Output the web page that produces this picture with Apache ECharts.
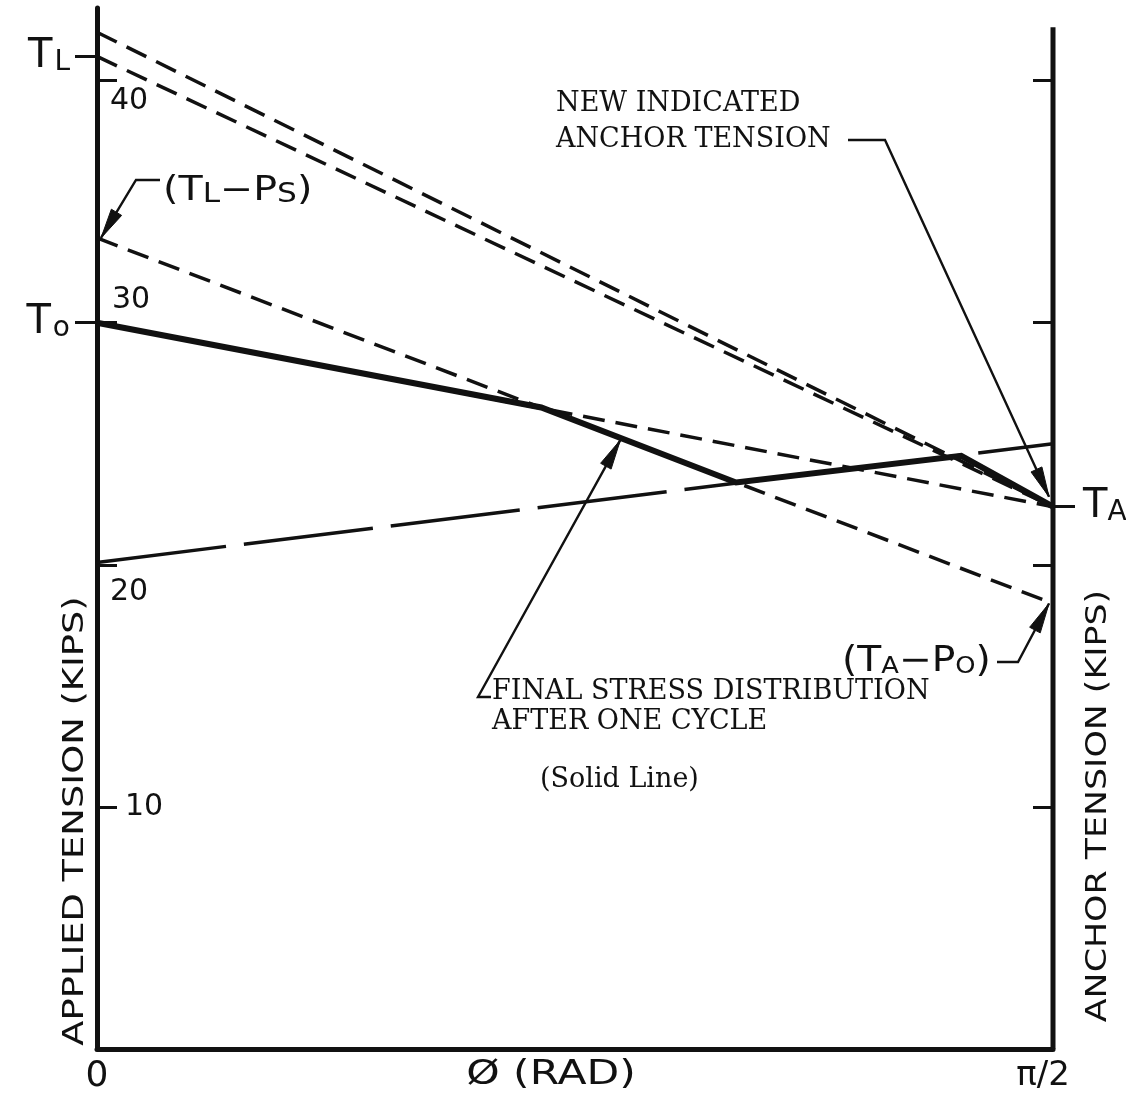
<!DOCTYPE html>
<html>
<head>
<meta charset="utf-8">
<title>Applied and anchor tension along the tendon</title>
<script src="https://cdn.jsdelivr.net/npm/echarts@6/dist/echarts.min.js"></script>
<style>
  html, body { margin: 0; padding: 0; background: #ffffff; }
  #chart { width: 1126px; height: 1096px; }
</style>
</head>
<body>
<div id="chart"></div>
<script>
// ---- data -------------------------------------------------------------
const PHI_MAX = Math.PI / 2;                 // angle at the anchor end (rad)
const phiTickLabels = ['0', 'π/2'];
const tensionTicks = [10, 20, 30, 40];       // kips

// straight distributions, tension at phi = 0 and at phi = π/2
const lineEnds = [0, PHI_MAX];
const jackingUpper = [42.0, 22.4];
const jackingTL = [41.0, 22.4];
const lockOffLine = [33.5, 18.4];            // (TL - PS) down to (TA - PO)
const initialLine = [30.0, 22.4];            // To down to TA
const reverseLine = [20.1, 25.0];            // rising long-dash line

// final stress distribution after one cycle
const finalPhi = [0, 0.73, 1.05, 1.42, PHI_MAX];
const finalTension = [30.0, 26.5, 23.4, 24.5, 22.4];

// marked tensions on the two vertical axes
const markedLeft = [41.0, 30.0];             // TL, To
const markedRight = [22.4];                  // TA
const lockOffStart = 33.5;                   // TL - PS
const anchorDrop = 18.4;                     // TA - PO
const anchorSpine = [0, 42.2];               // extent of the anchor-tension axis

// ---- styles -----------------------------------------------------------
const INK = '#111111';
const HAND = '"DejaVu Sans", sans-serif';
const PRINT = '"DejaVu Serif", serif';

const chart = echarts.init(document.getElementById('chart'), null, { renderer: 'canvas' });

function straight(name, ends, dash, width) {
  return {
    name: name,
    type: 'line',
    xAxisIndex: 0,
    yAxisIndex: 0,
    data: lineEnds.map((x, i) => [x, ends[i]]),
    symbol: 'none',
    clip: false,
    silent: true,
    z: 3,
    lineStyle: { color: INK, width: width, type: dash, cap: 'butt' }
  };
}

const shortDash = [22, 11];
const longDash = [130, 18];

const option = {
  backgroundColor: '#ffffff',
  animation: false,
  grid: { left: 97, right: 73, top: 8, bottom: 47, containLabel: false, outerBoundsMode: 'none' },
  xAxis: {
    type: 'value',
    min: 0,
    max: PHI_MAX,
    interval: PHI_MAX,
    axisLine: { show: true, onZero: false, lineStyle: { color: INK, width: 5 } },
    axisTick: { show: false },
    splitLine: { show: false },
    axisLabel: {
      margin: 10,
      color: INK,
      fontFamily: HAND,
      fontSize: 34,
      showMinLabel: true,
      showMaxLabel: true,
      formatter: (v) => (v < 0.5 ? '{z|' + phiTickLabels[0] + '}' : '{p|' + phiTickLabels[1] + '}'),
      rich: {
        z: { fontFamily: HAND, fontSize: 36, color: INK },
        p: { fontFamily: HAND, fontSize: 34, color: INK, padding: [0, 20, 12, 0] }
      }
    }
  },
  yAxis: [
    {
      // applied tension scale
      type: 'value',
      position: 'left',
      min: 0,
      max: 43,
      interval: 10,
      axisLine: { show: true, onZero: false, lineStyle: { color: INK, width: 5 } },
      axisTick: {
        show: true, inside: true, length: 20,
        customValues: tensionTicks,
        lineStyle: { color: INK, width: 3 }
      },
      splitLine: { show: false },
      axisLabel: {
        inside: true,
        margin: 12,
        color: INK,
        fontFamily: HAND,
        fontSize: 30,
        customValues: tensionTicks,
        formatter: (v) => {
          if (v === tensionTicks[3]) return '{lo|' + v + '}';
          if (v === tensionTicks[2]) return '{hi|' + v + '}';
          if (v === tensionTicks[1]) return '{lo2|' + v + '}';
          if (v === tensionTicks[0]) return '{mid|' + v + '}';
          return '';
        },
        rich: {
          lo: { fontFamily: HAND, fontSize: 30, color: INK, padding: [42, 0, 0, 1] },
          hi: { fontFamily: HAND, fontSize: 30, color: INK, padding: [0, 0, 46, 3] },
          lo2: { fontFamily: HAND, fontSize: 30, color: INK, padding: [54, 0, 0, 1] },
          mid: { fontFamily: HAND, fontSize: 30, color: INK, padding: [0, 0, 0, 16] }
        }
      }
    },
    {
      // named tensions TL and To, ticked outside the left axis
      type: 'value',
      position: 'left',
      min: 0,
      max: 43,
      axisLine: { show: false },
      splitLine: { show: false },
      axisTick: {
        show: true, inside: false, length: 22,
        customValues: markedLeft,
        lineStyle: { color: INK, width: 3 }
      },
      axisLabel: {
        show: true,
        margin: 27,
        customValues: markedLeft,
        formatter: (v) => (v === markedLeft[0] ? '{t|T}{s|L}' : '{t|T}{o|o}'),
        rich: {
          t: { fontFamily: HAND, fontSize: 40, color: INK },
          s: { fontFamily: HAND, fontSize: 28, color: INK, padding: [12, 0, 0, 2] },
          o: { fontFamily: HAND, fontSize: 28, color: INK, padding: [12, 0, 0, 2] }
        }
      }
    },
    {
      // anchor tension scale, ticks only
      type: 'value',
      position: 'right',
      min: 0,
      max: 43,
      interval: 10,
      axisLine: { show: false },
      splitLine: { show: false },
      axisTick: {
        show: true, inside: true, length: 20,
        customValues: tensionTicks,
        lineStyle: { color: INK, width: 3 }
      },
      axisLabel: { show: false }
    },
    {
      // named tension TA, ticked outside the right axis
      type: 'value',
      position: 'right',
      min: 0,
      max: 43,
      axisLine: { show: false },
      splitLine: { show: false },
      axisTick: {
        show: true, inside: false, length: 22,
        customValues: markedRight,
        lineStyle: { color: INK, width: 3 }
      },
      axisLabel: {
        show: true,
        margin: 30,
        customValues: markedRight,
        formatter: () => '{t|T}{s|A}',
        rich: {
          t: { fontFamily: HAND, fontSize: 40, color: INK },
          s: { fontFamily: HAND, fontSize: 28, color: INK, padding: [12, 0, 0, 0] }
        }
      }
    }
  ],
  series: [
    straight('jacking upper', jackingUpper, shortDash, 3.5),
    straight('jacking TL', jackingTL, shortDash, 3.5),
    straight('lock-off', lockOffLine, shortDash, 3.5),
    straight('initial', initialLine, shortDash, 3.5),
    straight('reverse', reverseLine, longDash, 3.5),
    {
      name: 'final distribution',
      type: 'line',
      xAxisIndex: 0,
      yAxisIndex: 0,
      data: finalPhi.map((x, i) => [x, finalTension[i]]),
      symbol: 'none',
      clip: false,
      silent: true,
      z: 4,
      lineStyle: { color: INK, width: 6, join: 'miter' }
    },
    {
      name: 'anchor axis',
      type: 'line',
      xAxisIndex: 0,
      yAxisIndex: 0,
      data: anchorSpine.map((v) => [PHI_MAX, v]),
      symbol: 'none',
      clip: false,
      silent: true,
      z: 5,
      lineStyle: { color: INK, width: 5, cap: 'butt' }
    }
  ]
};

chart.setOption(option);

// ---- annotations ------------------------------------------------------
const toPx = (x, y) => chart.convertToPixel({ xAxisIndex: 0, yAxisIndex: 0 }, [x, y]);

function tensionOnFinal(phi) {
  for (let i = 0; i < finalPhi.length - 1; i++) {
    if (phi >= finalPhi[i] && phi <= finalPhi[i + 1]) {
      const f = (phi - finalPhi[i]) / (finalPhi[i + 1] - finalPhi[i]);
      return finalTension[i] + f * (finalTension[i + 1] - finalTension[i]);
    }
  }
  return finalTension[finalTension.length - 1];
}

function leader(points, tip) {
  const all = points.concat([tip]);
  const a = all[all.length - 2];
  const dx = tip[0] - a[0], dy = tip[1] - a[1];
  const d = Math.hypot(dx, dy);
  const ux = dx / d, uy = dy / d;
  const len = 30, half = 6;
  const bx = tip[0] - ux * len, by = tip[1] - uy * len;
  return [
    { type: 'polyline', z: 20, shape: { points: all }, style: { stroke: INK, lineWidth: 2.4, fill: null } },
    {
      type: 'polygon', z: 21,
      shape: { points: [tip, [bx - uy * half, by + ux * half], [bx + uy * half, by - ux * half]] },
      style: { fill: INK, stroke: INK, lineWidth: 1 }
    }
  ];
}

function label(text, x, y, font, align) {
  return {
    type: 'text', z: 20, x: x, y: y,
    style: { text: text, font: font, fill: INK, textAlign: align || 'left', textVerticalAlign: 'middle' }
  };
}

// rotated or stretched hand lettering
function lettering(text, x, y, size, stretch, rotation) {
  return {
    type: 'text', z: 20, x: x, y: y, rotation: rotation || 0, scaleX: stretch,
    style: { text: text, font: size + 'px ' + HAND, fill: INK, textAlign: 'center', textVerticalAlign: 'middle' }
  };
}

const tlps = toPx(0, lockOffStart);
const taTip = toPx(PHI_MAX, markedRight[0]);
const tapo = toPx(PHI_MAX, anchorDrop);
const finalTipPhi = 0.86;
const finalTip = toPx(finalTipPhi, tensionOnFinal(finalTipPhi));

const graphics = []
  .concat(leader([[160, 180], [136, 180]], [tlps[0] + 4, tlps[1]]))
  .concat(leader([[848, 140], [885, 140]], [taTip[0] - 4, taTip[1] - 10]))
  .concat(leader([[997, 662], [1018, 662]], [tapo[0] - 4, tapo[1]]))
  .concat(leader([[491, 697], [478, 697]], [finalTip[0], finalTip[1] + 2]))
  .concat([
    {
      type: 'text', z: 20, x: 163, y: 191, scaleX: 1.2,
      style: {
        text: '{p|(T}{s|L}{p|−P}{s|S}{p|)}',
        textVerticalAlign: 'middle',
        rich: {
          p: { fontFamily: HAND, fontSize: 33, fill: INK },
          s: { fontFamily: HAND, fontSize: 26, fill: INK, padding: [8, 0, 0, 0] }
        }
      }
    },
    {
      type: 'text', z: 20, x: 842, y: 662, scaleX: 1.12,
      style: {
        text: '{p|(T}{s|A}{p|−P}{s|O}{p|)}',
        textVerticalAlign: 'middle',
        rich: {
          p: { fontFamily: HAND, fontSize: 35, fill: INK },
          s: { fontFamily: HAND, fontSize: 23, fill: INK, padding: [10, 0, 0, 0] }
        }
      }
    },
    label('NEW INDICATED', 556, 104, '27px ' + PRINT),
    label('ANCHOR TENSION', 556, 140, '27px ' + PRINT),
    label('FINAL STRESS DISTRIBUTION', 492, 692, '27px ' + PRINT),
    label('AFTER ONE CYCLE', 492, 722, '27px ' + PRINT),
    label('(Solid Line)', 540, 780, '27px ' + PRINT),
    lettering('APPLIED TENSION (KIPS)', 75, 821, 29, 1.27, Math.PI / 2),
    lettering('ANCHOR TENSION (KIPS)', 1098, 806, 29, 1.2, Math.PI / 2),
    lettering('Ø (RAD)', 551, 1075, 34, 1.25, 0)
  ]);

chart.setOption({ graphic: graphics });
</script>
</body>
</html>
